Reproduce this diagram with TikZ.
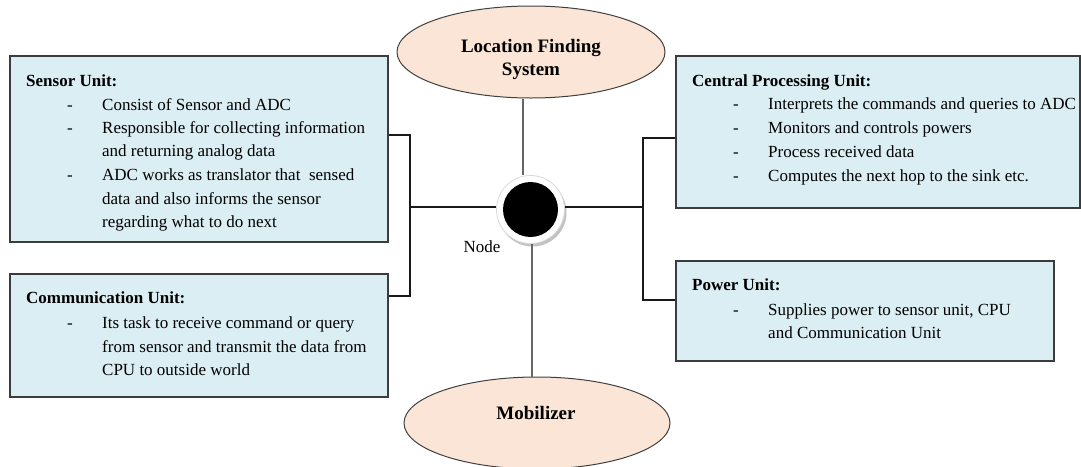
\documentclass[tikz,border=0pt]{standalone}
\usepackage{fontspec}
\setmainfont{Liberation Serif}
\usetikzlibrary{calc,shapes.geometric,shadows}
\definecolor{boxblue}{RGB}{219,238,244}
\definecolor{peach}{RGB}{251,229,214}
\definecolor{boxedge}{RGB}{60,60,60}
\tikzset{
 unitbox/.style={draw=boxedge, line width=1.5pt, fill=boxblue, anchor=north west, inner sep=0pt},
 txt/.style={anchor=base west, inner sep=0pt, font=\fontsize{17}{20}\selectfont},
 ttl/.style={anchor=base west, inner sep=0pt, font=\fontsize{17}{20}\selectfont\bfseries},
 ovaltxt/.style={anchor=base, inner sep=0pt, font=\fontsize{19}{22}\selectfont\bfseries},
 oval/.style={ellipse, draw=black!75, line width=1pt, fill=peach, minimum width=268pt, minimum height=92pt, inner sep=0pt},
 conn/.style={draw=black!90, line width=1.2pt},
 gconn/.style={draw=black!60, line width=1.5pt},
}
\begin{document}
\begin{tikzpicture}[x=1pt,y=-1pt]
\useasboundingbox (0,0) rectangle (1081,466);

% boxes
\node[unitbox, minimum width=378pt, minimum height=186pt] (sensor) at (9,55) {};
\node[unitbox, minimum width=378pt, minimum height=123pt] (comm) at (9,273) {};
\node[unitbox, minimum width=404pt, minimum height=152pt] (cpu) at (675,55) {};
\node[unitbox, minimum width=378pt, minimum height=100pt] (power) at (675,260) {};

% ellipses
\node[oval] (loc) at (531,52) {};
\node[oval, minimum width=266pt] (mob) at (537,423) {};
\node[ovaltxt] (locT1) at (531,52) {Location Finding};
\node[ovaltxt] (locT2) at (531,75) {System};
\node[ovaltxt] (mobT) at (536,419) {Mobilizer};

% central node
\node[circle, minimum size=68pt, fill=white, draw=black!15, line width=0.8pt, inner sep=0pt,
      drop shadow={shadow xshift=2pt, shadow yshift=-3pt, fill=black!40, opacity=0.6}] (halo) at (530.5,209.5) {};
\node[circle, minimum size=55pt, fill=black, inner sep=0pt] (nd) at (halo.center) {};
\node[txt, anchor=base] (ndT) at (482,252) {Node};

% connectors
\coordinate (sA) at ([yshift=-80pt]sensor.north east);
\coordinate (cA) at ([yshift=-23pt]comm.north east);
\coordinate (lj) at (410,207);
\draw[conn] (sA) -- (lj |- sA) |- (cA);
\draw[conn] (lj) -- (halo.west |- lj);

\coordinate (cpA) at ([yshift=-83pt]cpu.north west);
\coordinate (pA) at ([yshift=-40pt]power.north west);
\coordinate (rj) at (643,207);
\draw[conn] (cpA) -- (rj |- cpA) |- (pA);
\draw[conn] (halo.east |- rj) -- (rj);

\draw[gconn] ([xshift=-8pt]loc.south) -- ([xshift=-8pt]loc.south |- halo.north);
\draw[gconn] ([xshift=1.5pt]halo.south) -- ([xshift=1.5pt]halo.south |- mob.north);

% sensor text
\begin{scope}
\clip (9,55) rectangle (387,230);
\node[ttl] (sT) at (26,86) {Sensor Unit:};
\node[txt] at (67,110) {-};
\node[txt] at (102,110) {Consist of Sensor and ADC};
\node[txt] at (67,133) {-};
\node[txt] at (102,133) {Responsible for collecting information};
\node[txt] at (102,156) {and returning analog data};
\node[txt] at (67,180) {-};
\node[txt] at (102,180) {ADC works as translator that\ \ sensed};
\node[txt] at (102,204) {data and also informs the sensor};
\node[txt] at (102,227) {regarding what to do next};
\end{scope}

% communication text
\node[ttl] (cT) at (26,303) {Communication Unit:};
\node[txt] at (67,328) {-};
\node[txt] at (102,328) {Its task to receive command or query};
\node[txt] at (102,352) {from sensor and transmit the data from};
\node[txt] at (102,375) {CPU to outside world};

% cpu text
\node[ttl] (cpT) at (692,86) {Central Processing Unit:};
\node[txt] at (733,109) {-};
\node[txt] at (768,109) {Interprets the commands and queries to ADC};
\node[txt] at (733,133) {-};
\node[txt] at (768,133) {Monitors and controls powers};
\node[txt] at (733,157) {-};
\node[txt] at (768,157) {Process received data};
\node[txt] at (733,181) {-};
\node[txt] at (768,181) {Computes the next hop to the sink etc.};

% power text
\node[ttl] (pT) at (692,290) {Power Unit:};
\node[txt] at (733,315) {-};
\node[txt] at (768,315) {Supplies power to sensor unit, CPU};
\node[txt] at (768,338) {and Communication Unit};
\end{tikzpicture}
\end{document}
